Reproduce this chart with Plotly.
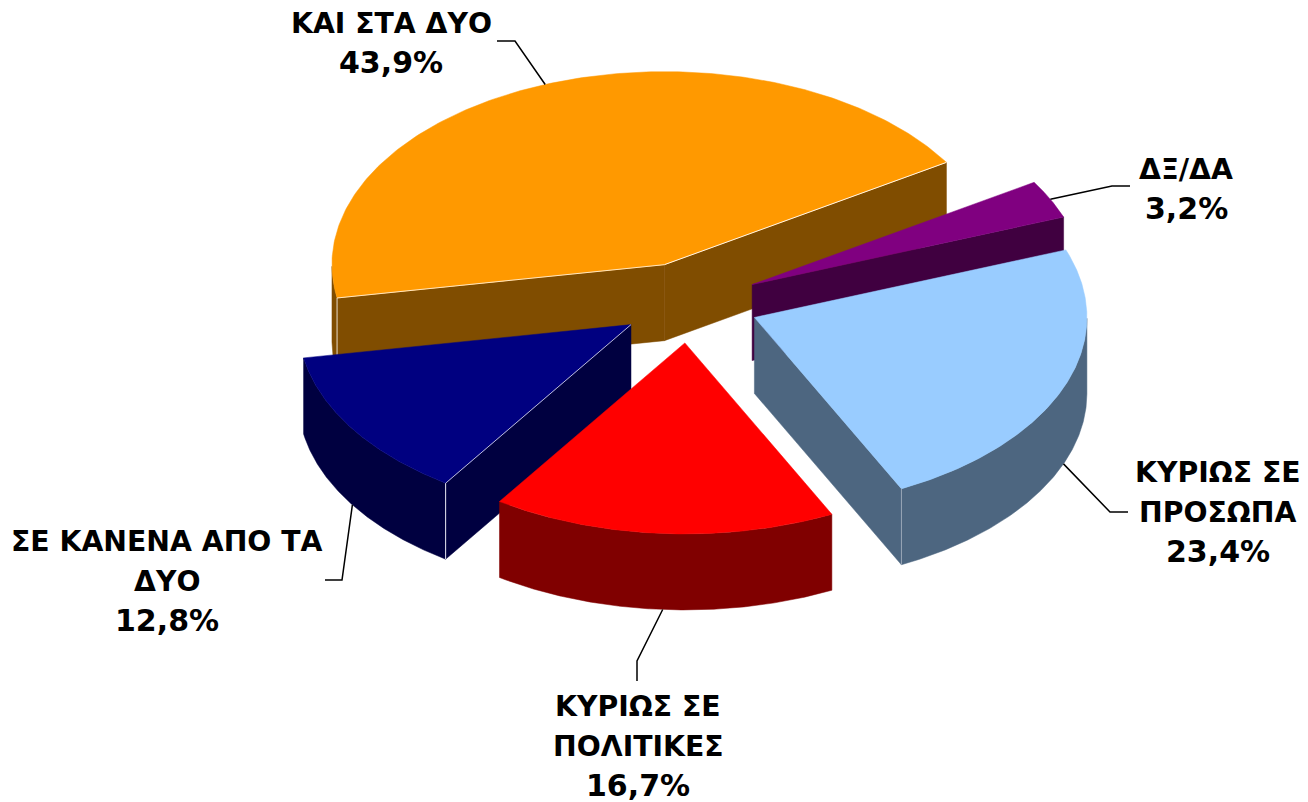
import numpy as np
import plotly.graph_objects as go

# ---- data (counter-clockwise from the first slice's start) ----
labels = ["ΚΑΙ ΣΤΑ ΔΥΟ", "ΣΕ ΚΑΝΕΝΑ ΑΠΟ ΤΑ<br>ΔΥΟ", "ΚΥΡΙΩΣ ΣΕ<br>ΠΟΛΙΤΙΚΕΣ", "ΚΥΡΙΩΣ ΣΕ<br>ΠΡΟΣΩΠΑ", "ΔΞ/ΔΑ"]
values = [43.9, 12.8, 16.7, 23.4, 3.2]
top_colors = ["#FF9900", "#000080", "#FF0000", "#99CCFF", "#800080"]
wall_colors = ["#804D00", "#000040", "#800000", "#4D6680", "#400040"]

# ---- projection / layout constants ----
W, H = 1308, 802
CX, CY = 689.5, 302.5
RX = 332.5
RY_BACK, RY_FRONT = 193, 191
DEPTH = 76
EXPLODE = 0.21
START = 32.0
label_pos = [(391, 43), (167, 581), (638, 746), (1218, 512), (1186, 189)]
elbows = [[(515, 41), (497, 41)], [(342, 580), (325, 580)], [(637, 661), (637, 681)],
          [(1110, 512), (1128, 512)], [(1112, 186), (1130, 186)]]
draw_order = [0, 4, 1, 2, 3]
FONT = "DejaVu Sans"
FS_TEXT = 28.3
FS_PCT = 30
LINE = 39.5

fig = go.Figure()


def poly(xs, ys, color):
    fig.add_trace(go.Scatter(x=xs, y=ys, mode="lines", fill="toself", fillcolor=color,
                             line=dict(color=color, width=0.5), hoverinfo="skip", showlegend=False))


def edge(xs, ys, color):
    fig.add_trace(go.Scatter(x=xs, y=ys, mode="lines", line=dict(color=color, width=1),
                             hoverinfo="skip", showlegend=False))


def rim(ax, ay, a):
    r = np.radians(a)
    s = np.sin(r)
    return ax + RX * np.cos(r), ay - np.where(s >= 0, RY_BACK, RY_FRONT) * s


total = sum(values)
spans = []
t = START
for v in values:
    spans.append((t, t + v / total * 360))
    t = spans[-1][1]

for i in draw_order:
    t0, t1 = spans[i]
    mid = np.radians((t0 + t1) / 2)
    ax = CX + EXPLODE * RX * np.cos(mid)
    ay = CY - EXPLODE * RY_BACK * np.sin(mid)

    # radial walls, drawn when facing the viewer
    for a, normal in ((t0, t0 - 90), (t1, t1 + 90)):
        if np.sin(np.radians(normal)) < 0:
            px, py = rim(ax, ay, a)
            poly([ax, px, px, ax, ax], [ay, py, py + DEPTH, ay + DEPTH, ay], wall_colors[i])

    # outer wall: the part of the arc on the near side
    ts = np.linspace(t0, t1, 200)
    ts = ts[np.sin(np.radians(ts)) <= 0]
    if len(ts):
        xs, ys = rim(ax, ay, ts)
        poly(list(xs) + list(xs[::-1]) + [xs[0]], list(ys) + list(ys[::-1] + DEPTH) + [ys[0]], wall_colors[i])

    # top face
    ts = np.linspace(t0, t1, 200)
    xs, ys = rim(ax, ay, ts)
    poly([ax] + list(xs) + [ax], [ay] + list(ys) + [ay], top_colors[i])

    # thin light edges on the near corners
    if i == 0:
        px, py = rim(ax, ay, t0)
        edge([ax, px], [ay, py], "#FFF6E8")
        px, py = rim(ax, ay, t1)
        edge([ax, px], [ay, py], "#FFE6BF")
        edge([px, px], [py, py + DEPTH], "#E8DCC8")
    if i == 1:
        px, py = rim(ax, ay, t1)
        edge([ax, px], [ay, py], "#B8B8D8")
        edge([px, px], [py, py + DEPTH], "#E8E8F4")
    if i == 3:
        px, py = rim(ax, ay, t0)
        edge([px, px], [py, py + DEPTH], "#9AA8B8")

    # leader line
    sx, sy = rim(ax, ay, np.degrees(mid))
    if np.sin(mid) < 0:
        sy += DEPTH
    pts = [(sx, sy)] + elbows[i]
    fig.add_trace(go.Scatter(x=[p[0] for p in pts], y=[p[1] for p in pts], mode="lines",
                             line=dict(color="#000000", width=1.5), hoverinfo="skip", showlegend=False))

    # label: one annotation per line so the line spacing can follow the reference
    lx, ly = label_pos[i]
    lines = labels[i].split("<br>") + [f"{values[i]:.1f}%".replace(".", ",")]
    for k, line in enumerate(lines):
        fig.add_annotation(x=lx, y=ly + (k - (len(lines) - 1) / 2) * LINE, text=f"<b>{line}</b>",
                           showarrow=False, xanchor="center", yanchor="middle", align="center",
                           font=dict(family=FONT, size=FS_PCT if k == len(lines) - 1 else FS_TEXT, color="#000000"))

fig.update_layout(width=W, height=H, margin=dict(l=0, r=0, t=0, b=0), paper_bgcolor="white",
                  plot_bgcolor="white", showlegend=False,
                  xaxis=dict(range=[0, W], visible=False, fixedrange=True),
                  yaxis=dict(range=[H, 0], visible=False, fixedrange=True))
fig.write_html("out.html", config={"displayModeBar": False},
               post_script="document.body.style.margin='0';document.documentElement.style.overflow='hidden';")
